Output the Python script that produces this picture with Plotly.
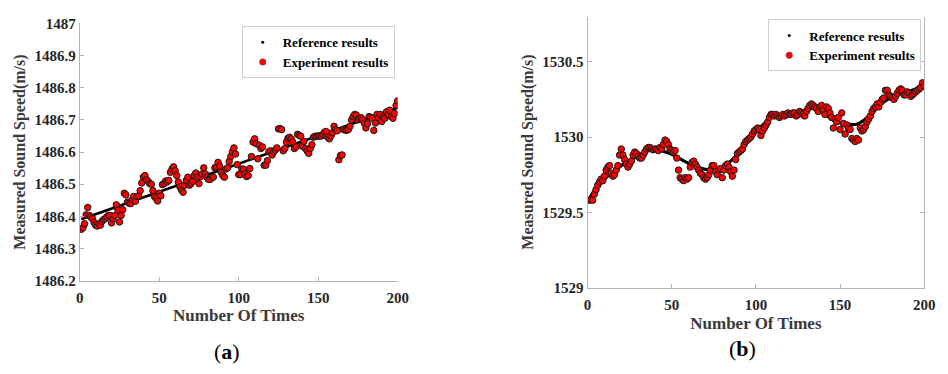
import plotly.graph_objects as go

# ---------------- data ----------------
sample_index = list(range(1, 201))

# panel (a)
a_ref_x = [1, 200]
a_ref_y = [1486.391, 1486.738]
a_exp = [
    1486.360, 1486.365, 1486.377, 1486.405, 1486.428, 1486.403, 1486.398, 1486.393, 1486.381, 1486.373,
    1486.370, 1486.377, 1486.373, 1486.385, 1486.390, 1486.393, 1486.398, 1486.403, 1486.403, 1486.380,
    1486.393, 1486.403, 1486.436, 1486.420, 1486.383, 1486.403, 1486.421, 1486.472, 1486.467, 1486.445,
    1486.441, 1486.440, 1486.452, 1486.462, 1486.447, 1486.462, 1486.464, 1486.480, 1486.504, 1486.522,
    1486.527, 1486.514, 1486.509, 1486.502, 1486.500, 1486.480, 1486.462, 1486.457, 1486.448, 1486.472,
    1486.464, 1486.499, 1486.502, 1486.510, 1486.507, 1486.512, 1486.537, 1486.547, 1486.554, 1486.542,
    1486.527, 1486.507, 1486.492, 1486.482, 1486.475, 1486.497, 1486.512, 1486.522, 1486.497, 1486.502,
    1486.509, 1486.527, 1486.535, 1486.522, 1486.502, 1486.524, 1486.532, 1486.551, 1486.532, 1486.522,
    1486.515, 1486.515, 1486.522, 1486.522, 1486.551, 1486.554, 1486.568, 1486.556, 1486.537, 1486.527,
    1486.522, 1486.547, 1486.551, 1486.571, 1486.586, 1486.601, 1486.613, 1486.594, 1486.561, 1486.530,
    1486.530, 1486.547, 1486.547, 1486.532, 1486.524, 1486.527, 1486.549, 1486.586, 1486.631, 1486.641,
    1486.626, 1486.579, 1486.621, 1486.611, 1486.616, 1486.559, 1486.559, 1486.573, 1486.601, 1486.604,
    1486.591, 1486.601, 1486.606, 1486.613, 1486.672, 1486.673, 1486.670, 1486.604, 1486.611, 1486.631,
    1486.643, 1486.646, 1486.641, 1486.631, 1486.611, 1486.616, 1486.655, 1486.652, 1486.649, 1486.618,
    1486.633, 1486.611, 1486.604, 1486.596, 1486.611, 1486.623, 1486.646, 1486.649, 1486.649, 1486.650,
    1486.650, 1486.650, 1486.655, 1486.662, 1486.664, 1486.646, 1486.641, 1486.650, 1486.660, 1486.680,
    1486.670, 1486.666, 1486.576, 1486.589, 1486.591, 1486.670, 1486.668, 1486.668, 1486.670, 1486.680,
    1486.700, 1486.710, 1486.717, 1486.715, 1486.700, 1486.705, 1486.707, 1486.700, 1486.690, 1486.675,
    1486.688, 1486.710, 1486.708, 1486.705, 1486.667, 1486.690, 1486.717, 1486.707, 1486.717, 1486.695,
    1486.710, 1486.705, 1486.725, 1486.715, 1486.730, 1486.710, 1486.705, 1486.720, 1486.745, 1486.759,
]
a_yticks = [1486.2, 1486.3, 1486.4, 1486.5, 1486.6, 1486.7, 1486.8, 1486.9, 1487.0]
a_ytick_text = ["1486.2", "1486.3", "1486.4", "1486.5", "1486.6", "1486.7", "1486.8", "1486.9", "1487"]

# panel (b)
b_ref_x = [1, 5, 10, 15, 20, 25, 30, 35, 40, 45, 50, 55, 60, 65, 70, 75, 80, 85, 90, 95, 100,
           105, 110, 115, 120, 125, 130, 133, 140, 146, 150, 155, 160, 165, 170, 175, 180, 185,
           190, 195, 200]
b_ref_y = [1529.59, 1529.66, 1529.72, 1529.765, 1529.81, 1529.845, 1529.875, 1529.905, 1529.925,
           1529.905, 1529.885, 1529.855, 1529.825, 1529.80, 1529.785, 1529.78, 1529.80, 1529.84,
           1529.90, 1529.97, 1530.03, 1530.09, 1530.14, 1530.15, 1530.16, 1530.17, 1530.18, 1530.19,
           1530.16, 1530.11, 1530.095, 1530.085, 1530.085, 1530.12, 1530.17, 1530.225, 1530.26,
           1530.285, 1530.30, 1530.32, 1530.35]
b_exp = [
    1529.58, 1529.585, 1529.58, 1529.62, 1529.65, 1529.68, 1529.70, 1529.72, 1529.71, 1529.74,
    1529.78, 1529.80, 1529.81, 1529.76, 1529.74, 1529.75, 1529.78, 1529.81, 1529.88, 1529.92,
    1529.88, 1529.85, 1529.82, 1529.80, 1529.82, 1529.84, 1529.88, 1529.90, 1529.89, 1529.87,
    1529.86, 1529.86, 1529.88, 1529.90, 1529.92, 1529.93, 1529.93, 1529.92, 1529.915, 1529.92,
    1529.92, 1529.91, 1529.93, 1529.92, 1529.95, 1529.98, 1529.97, 1529.95, 1529.92, 1529.91,
    1529.90, 1529.91, 1529.86, 1529.78, 1529.73, 1529.72, 1529.71, 1529.73, 1529.72, 1529.73,
    1529.80, 1529.83, 1529.84, 1529.82, 1529.80, 1529.78, 1529.76, 1529.75, 1529.73, 1529.72,
    1529.73, 1529.75, 1529.78, 1529.81, 1529.81, 1529.77, 1529.75, 1529.78, 1529.79, 1529.73,
    1529.78, 1529.81, 1529.82, 1529.80, 1529.77, 1529.74, 1529.78, 1529.85, 1529.89, 1529.90,
    1529.91, 1529.92, 1529.95, 1529.97, 1529.98, 1529.99, 1530.00, 1530.02, 1530.04, 1530.05,
    1530.06, 1530.05, 1530.01, 1530.04, 1530.06, 1530.08, 1530.10, 1530.13, 1530.15, 1530.15,
    1530.14, 1530.15, 1530.14, 1530.13, 1530.14, 1530.15, 1530.14, 1530.15, 1530.16, 1530.15,
    1530.15, 1530.16, 1530.16, 1530.14, 1530.15, 1530.17, 1530.16, 1530.15, 1530.14, 1530.17,
    1530.19, 1530.21, 1530.22, 1530.21, 1530.20, 1530.19, 1530.17, 1530.20, 1530.21, 1530.18,
    1530.15, 1530.20, 1530.19, 1530.16, 1530.13, 1530.06, 1530.12, 1530.10, 1530.13, 1530.05,
    1530.16, 1530.09, 1530.02, 1530.08, 1530.06, 1530.05, 1529.99, 1529.98, 1529.97, 1529.99,
    1529.98, 1530.06, 1530.04, 1530.05, 1530.07, 1530.10, 1530.12, 1530.14, 1530.17, 1530.19,
    1530.20, 1530.22, 1530.20, 1530.23, 1530.25, 1530.26, 1530.31, 1530.31, 1530.28, 1530.27,
    1530.26, 1530.25, 1530.27, 1530.29, 1530.31, 1530.32, 1530.31, 1530.28, 1530.28, 1530.30,
    1530.29, 1530.27, 1530.28, 1530.29, 1530.30, 1530.31, 1530.32, 1530.33, 1530.36, 1530.34,
]
b_yticks = [1529.0, 1529.5, 1530.0, 1530.5]
b_ytick_text = ["1529", "1529.5", "1530", "1530.5"]

x_ticks = [0, 50, 100, 150, 200]
x_tick_text = ["0", "50", "100", "150", "200"]

series_names = ["Reference results", "Experiment results"]
x_title = "Number Of Times"
y_title = "Measured Sound Speed(m/s)"
panel_labels = ["(<b>a</b>)", "(<b>b</b>)"]

# ---------------- figure ----------------
W, H = 948, 374
SERIF = "Liberation Serif"
AXIS_GRAY = "#b4b4b4"
TEXT_DARK = "#262626"

fig = go.Figure()

exp_marker = dict(color="#ff0000", size=6.5, line=dict(color="#1a1a1a", width=1))

# ---- panel (a)
fig.add_trace(go.Scatter(x=a_ref_x, y=a_ref_y, mode="lines", line=dict(color="black", width=2.6),
                         showlegend=False, xaxis="x", yaxis="y", hoverinfo="skip"))
fig.add_trace(go.Scatter(x=sample_index, y=a_exp, mode="markers", marker=exp_marker,
                         showlegend=False, xaxis="x", yaxis="y"))
fig.add_trace(go.Scatter(x=[None], y=[None], mode="markers", name=series_names[0],
                         marker=dict(color="black", size=3), legend="legend", xaxis="x", yaxis="y"))
fig.add_trace(go.Scatter(x=[None], y=[None], mode="markers", name=series_names[1],
                         marker=dict(color="#ff0000", size=6.5, line=dict(color="#555", width=0.5)),
                         legend="legend", xaxis="x", yaxis="y"))

# ---- panel (b)
fig.add_trace(go.Scatter(x=b_ref_x, y=b_ref_y, mode="lines", line=dict(color="black", width=3.2, shape="spline"),
                         showlegend=False, xaxis="x2", yaxis="y2", hoverinfo="skip"))
fig.add_trace(go.Scatter(x=sample_index, y=b_exp, mode="markers", marker=exp_marker,
                         showlegend=False, xaxis="x2", yaxis="y2"))
fig.add_trace(go.Scatter(x=[None], y=[None], mode="markers", name=series_names[0],
                         marker=dict(color="black", size=3), legend="legend2", xaxis="x2", yaxis="y2"))
fig.add_trace(go.Scatter(x=[None], y=[None], mode="markers", name=series_names[1],
                         marker=dict(color="#ff0000", size=6.5, line=dict(color="#555", width=0.5)),
                         legend="legend2", xaxis="x2", yaxis="y2"))

tick_font = dict(family=SERIF, size=15, color=TEXT_DARK, weight="bold")
xtitle_font = dict(family=SERIF, size=17, color="#3a3a3a", weight="bold")
ytitle_font = dict(family=SERIF, size=16, color="#3a3a3a", weight="bold")


def xaxis_cfg(domain, standoff):
    return dict(domain=domain, range=[0, 200], tickvals=x_ticks, ticktext=x_tick_text,
                ticks="inside", ticklen=4, tickcolor=AXIS_GRAY, showline=True, linecolor=AXIS_GRAY,
                linewidth=1, showgrid=False, zeroline=False, tickfont=tick_font, ticklabelstandoff=3,
                title=dict(text=x_title, font=xtitle_font, standoff=standoff))


def yaxis_cfg(domain, anchor, rng, tv, tt, mirror, standoff):
    return dict(domain=domain, anchor=anchor, range=rng, tickvals=tv, ticktext=tt,
                ticks="inside", ticklen=4, tickcolor=AXIS_GRAY, showline=True, linecolor=AXIS_GRAY,
                linewidth=1, mirror=mirror, showgrid=False, zeroline=False, tickfont=tick_font,
                title=dict(text=y_title, font=ytitle_font, standoff=standoff))


ax_a = [77 / W, 400 / W]
ay_a = [1 - 285 / H, 1 - 16 / H]
ax_b = [593 / W, 935 / W]
ay_b = [1 - 292 / H, 1 - 9 / H]

legend_common = dict(bgcolor="white", bordercolor="#cfcfcf", borderwidth=1,
                     font=dict(family=SERIF, size=13, color="black", weight="bold"),
                     xanchor="right", yanchor="top", itemwidth=30, tracegroupgap=0)

fig.update_layout(
    width=W, height=H,
    margin=dict(l=0, r=0, t=0, b=0),
    paper_bgcolor="white", plot_bgcolor="white",
    showlegend=True,
    xaxis=dict(**xaxis_cfg(ax_a, 4), anchor="y"),
    yaxis=yaxis_cfg(ay_a, "x", [1486.2, 1487.0], a_yticks, a_ytick_text, False, 4),
    xaxis2=dict(**xaxis_cfg(ax_b, 5), anchor="y2"),
    yaxis2=yaxis_cfg(ay_b, "x2", [1529.0, 1530.8], b_yticks, b_ytick_text, "ticks", 4),
    legend=dict(**legend_common, x=397 / W, y=1 - 19 / H),
    legend2=dict(**legend_common, x=932 / W, y=1 - 12 / H),
    annotations=[
        dict(text=panel_labels[0], x=227 / W, y=1 - 359 / H, xref="paper", yref="paper",
             xanchor="center", yanchor="middle",
             showarrow=False, font=dict(family=SERIF, size=22, color="black")),
        dict(text=panel_labels[1], x=750 / W, y=1 - 356 / H, xref="paper", yref="paper",
             xanchor="center", yanchor="middle",
             showarrow=False, font=dict(family=SERIF, size=22, color="black")),
    ],
)

fig.write_html("out.html")
